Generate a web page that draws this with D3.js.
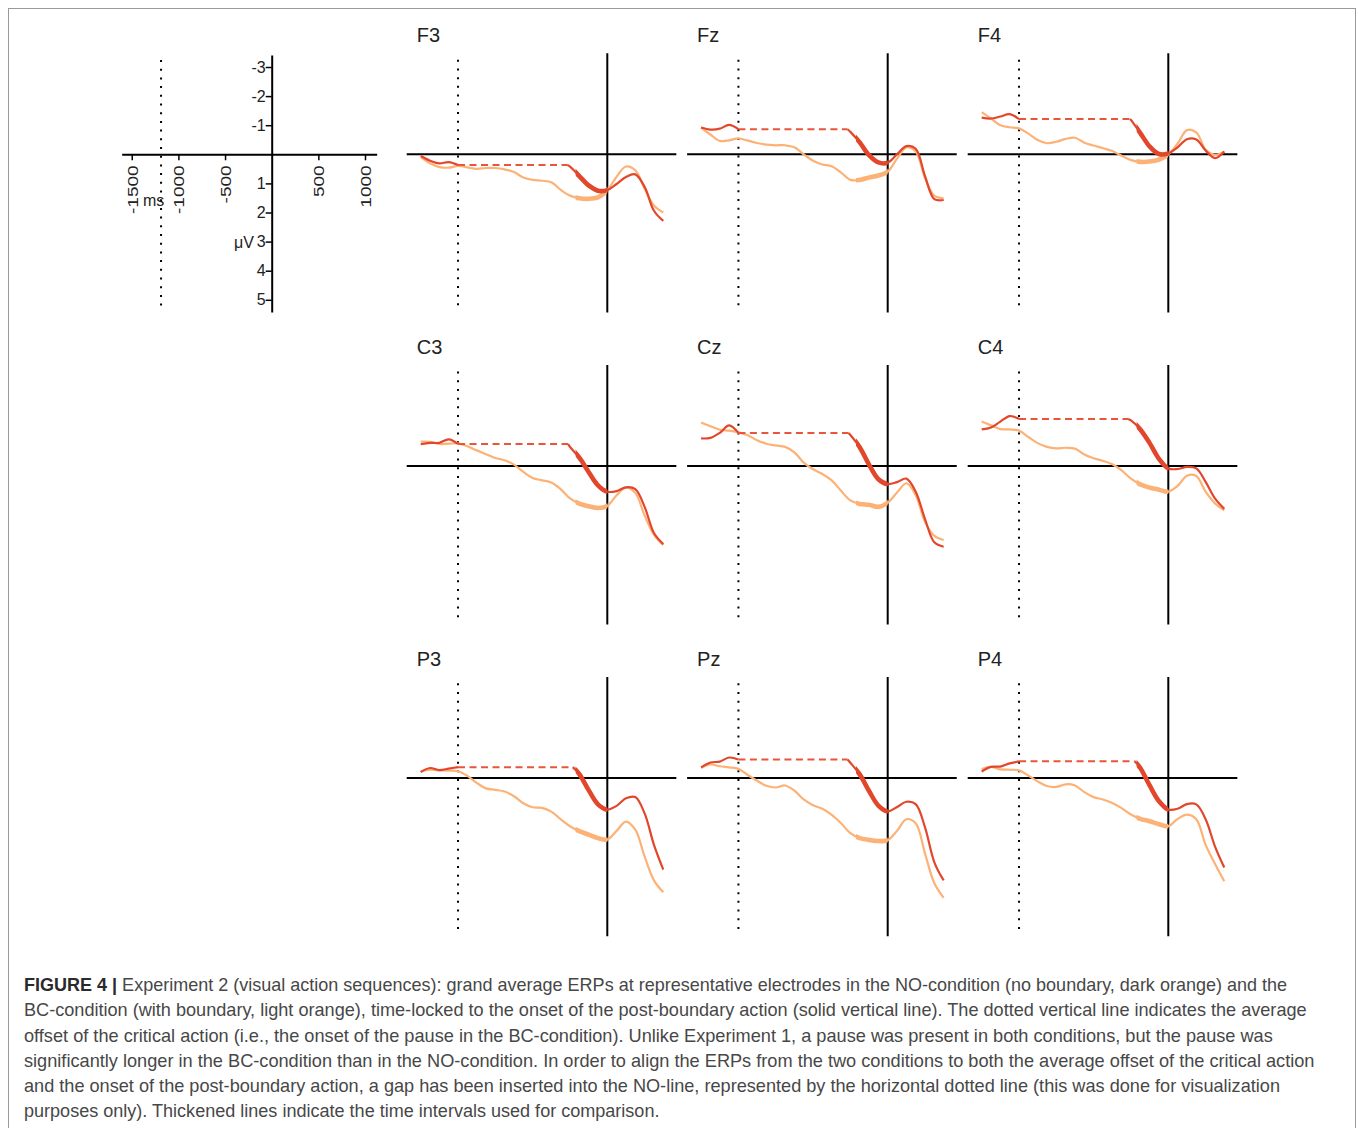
<!DOCTYPE html>
<html><head><meta charset="utf-8">
<script src="https://cdn.jsdelivr.net/npm/d3@7"></script>
<style>body{margin:0;background:#fff;} svg{display:block;}</style>
</head><body>
<svg id="chart" width="1358" height="1128"></svg>
<script>
// ---------- DATA ----------
const electrodes = ["F3", "Fz", "F4", "C3", "Cz", "C4", "P3", "Pz", "P4"];
const bcTimes = [-2000,-1900,-1800,-1700,-1600,-1500,-1400,-1300,-1200,-1100,-1000,-900,-800,-700,-600,-500,-400,-300,-200,-100,0,100,200,300,400,500,600];
const noPreTimes = [-2000,-1900,-1800,-1700,-1600];
const noPostTimes = [-400,-300,-200,-100,0,100,200,300,400,500,600];
const gapEnd = [-430, -430, -410, -420, -420, -430, -370, -430, -360];
const pauseOnset = -1600;         // dotted vertical line (ms)
const thickWindow = [-340, 0];    // thickened comparison interval (ms)

const noPreF3 = [0.06, 0.22, 0.31, 0.27, 0.37];
const noPostF3 = [0.42, 0.75, 1.07, 1.25, 1.23, 1.02, 0.78, 0.69, 1.12, 1.94, 2.29];
const bcF3 = [0.10,0.31,0.44,0.46,0.40,0.45,0.50,0.47,0.47,0.52,0.61,0.80,0.88,0.91,0.96,1.22,1.42,1.51,1.53,1.48,1.23,0.77,0.42,0.55,1.18,1.76,2.00];

const noPreFz = [-0.92, -0.85, -0.88, -1.01, -0.86];
const noPostFz = [-0.77, -0.41, 0.03, 0.28, 0.29, 0.00, -0.28, -0.19, 0.75, 1.54, 1.57];
const bcFz = [-0.92,-0.68,-0.46,-0.48,-0.55,-0.47,-0.39,-0.33,-0.31,-0.31,-0.24,0.00,0.22,0.35,0.41,0.63,0.88,0.88,0.80,0.73,0.60,0.15,-0.24,-0.10,0.82,1.42,1.51];

const noPreF4 = [-1.26, -1.23, -1.30, -1.38, -1.21];
const noPostF4 = [-1.18, -0.73, -0.27, -0.01, -0.03, -0.24, -0.52, -0.51, -0.13, 0.13, -0.10];
const bcF4 = [-1.45,-1.23,-1.00,-0.93,-0.89,-0.71,-0.49,-0.38,-0.43,-0.53,-0.57,-0.40,-0.30,-0.21,-0.11,0.05,0.20,0.26,0.25,0.18,0.00,-0.37,-0.83,-0.75,-0.16,0.02,-0.10];

const noPreC3 = [-0.75, -0.80, -0.80, -0.92, -0.76];
const noPostC3 = [-0.66, -0.29, 0.20, 0.66, 0.88, 0.86, 0.73, 0.79, 1.40, 2.30, 2.68];
const bcC3 = [-0.84,-0.83,-0.76,-0.77,-0.78,-0.68,-0.54,-0.41,-0.28,-0.20,-0.05,0.20,0.41,0.49,0.56,0.79,1.11,1.29,1.38,1.44,1.37,1.00,0.74,0.92,1.70,2.36,2.71];

const noPreCz = [-0.95, -0.97, -1.14, -1.40, -1.14];
const noPostCz = [-1.07, -0.65, -0.05, 0.45, 0.62, 0.55, 0.43, 0.88, 1.82, 2.62, 2.77];
const bcCz = [-1.50,-1.37,-1.25,-1.22,-1.16,-1.06,-0.89,-0.77,-0.71,-0.66,-0.47,-0.12,0.11,0.27,0.49,0.85,1.18,1.30,1.33,1.40,1.26,0.91,0.59,1.00,1.92,2.40,2.54];

const noPreC4 = [-1.26, -1.33, -1.53, -1.72, -1.62];
const noPostC4 = [-1.57, -1.26, -0.79, -0.25, 0.08, 0.10, 0.03, 0.08, 0.54, 1.11, 1.47];
const bcC4 = [-1.53,-1.40,-1.27,-1.26,-1.22,-1.00,-0.79,-0.66,-0.61,-0.63,-0.60,-0.40,-0.27,-0.18,-0.06,0.15,0.43,0.63,0.74,0.81,0.88,0.68,0.33,0.34,0.88,1.28,1.52];

const noPreP3 = [-0.20, -0.34, -0.27, -0.32, -0.37];
const noPostP3 = [null, -0.13, 0.42, 0.91, 1.09, 0.96, 0.70, 0.66, 1.22, 2.30, 3.15];
const bcP3 = [-0.23,-0.28,-0.26,-0.25,-0.23,-0.07,0.17,0.36,0.41,0.47,0.63,0.87,1.01,1.03,1.16,1.42,1.66,1.83,1.95,2.07,2.12,1.82,1.50,1.78,2.70,3.52,3.93];

const noPrePz = [-0.36, -0.53, -0.56, -0.70, -0.63];
const noPostPz = [-0.52, -0.12, 0.45, 0.95, 1.15, 1.00, 0.82, 0.90, 1.70, 2.90, 3.52];
const bcPz = [-0.34,-0.46,-0.40,-0.36,-0.31,-0.10,0.10,0.27,0.33,0.26,0.44,0.74,0.94,1.06,1.27,1.56,1.90,2.07,2.13,2.17,2.14,1.82,1.42,1.56,2.60,3.62,4.12];

const noPreP4 = [-0.22, -0.38, -0.39, -0.50, -0.57];
const noPostP4 = [null, -0.34, 0.26, 0.80, 1.09, 1.06, 0.90, 0.91, 1.42, 2.35, 3.08];
const bcP4 = [-0.30,-0.38,-0.29,-0.28,-0.26,-0.08,0.12,0.28,0.31,0.22,0.26,0.49,0.66,0.74,0.86,1.04,1.26,1.41,1.49,1.59,1.66,1.41,1.26,1.42,2.30,2.95,3.55];

const noPreAll = [noPreF3, noPreFz, noPreF4, noPreC3, noPreCz, noPreC4, noPreP3, noPrePz, noPreP4];
const noPostAll = [noPostF3, noPostFz, noPostF4, noPostC3, noPostCz, noPostC4, noPostP3, noPostPz, noPostP4];
const bcAll = [bcF3, bcFz, bcF4, bcC3, bcCz, bcC4, bcP3, bcPz, bcP4];

// legend axis
const legendXTicks = [-1500, -1000, -500, 500, 1000];
const legendYTicks = [-3, -2, -1, 1, 2, 3, 4, 5];
const legendDotted = -1186;

const captionLines = [
  [["FIGURE 4 | ", true], ["Experiment 2 (visual action sequences): grand average ERPs at representative electrodes in the NO-condition (no boundary, dark orange) and the", false]],
  [["BC-condition (with boundary, light orange), time-locked to the onset of the post-boundary action (solid vertical line). The dotted vertical line indicates the average", false]],
  [["offset of the critical action (i.e., the onset of the pause in the BC-condition). Unlike Experiment 1, a pause was present in both conditions, but the pause was", false]],
  [["significantly longer in the BC-condition than in the NO-condition. In order to align the ERPs from the two conditions to both the average offset of the critical action", false]],
  [["and the onset of the post-boundary action, a gap has been inserted into the NO-line, represented by the horizontal dotted line (this was done for visualization", false]],
  [["purposes only). Thickened lines indicate the time intervals used for comparison.", false]]
];
const captionRight = [1288, 1308, 1274, 1316, 1281, 660];

// ---------- LAYOUT ----------
const W = 1358, H = 1128;
const PX_MS = 0.0933, PX_UV = 29.1;
const colX = [607.3, 887.7, 1168.3];
const rowY = [154.3, 466.1, 777.9];
const NO_COLOR = "#e2472c", NO_DASH = "#e8553b", BC_COLOR = "#fcb276";
const FONT = "'Liberation Sans', Arial, Helvetica, sans-serif";

const svg = d3.select("#chart");
svg.append("rect").attr("x", 8.5).attr("y", 8.5).attr("width", 1347).attr("height", 1140)
  .attr("fill", "none").attr("stroke", "#9a9a9a").attr("stroke-width", 1);

const defs = svg.append("defs");

// ---------- PANELS ----------
electrodes.forEach((name, i) => {
  const c = i % 3, r = Math.floor(i / 3);
  const x = d3.scaleLinear().domain([-2150, 740]).range([colX[c] - 2150 * PX_MS, colX[c] + 740 * PX_MS]);
  const y = d3.scaleLinear().domain([-3.47, 5.44]).range([rowY[r] - 3.47 * PX_UV, rowY[r] + 5.44 * PX_UV]);
  const g = svg.append("g");
  const line = d3.line().x(d => x(d[0])).y(d => y(d[1])).curve(d3.curveCatmullRom.alpha(0.5));

  const clipId = "clip" + i;
  defs.append("clipPath").attr("id", clipId).append("rect")
    .attr("x", x(thickWindow[0])).attr("width", x(thickWindow[1]) - x(thickWindow[0]))
    .attr("y", y(-3.47)).attr("height", y(5.44) - y(-3.47));

  g.append("line").attr("x1", x(-2150)).attr("x2", x(740)).attr("y1", y(0)).attr("y2", y(0))
    .attr("stroke", "#000").attr("stroke-width", 2);
  g.append("line").attr("x1", x(0)).attr("x2", x(0)).attr("y1", y(-3.47)).attr("y2", y(5.44))
    .attr("stroke", "#000").attr("stroke-width", 2);
  g.append("line").attr("x1", x(pauseOnset)).attr("x2", x(pauseOnset)).attr("y1", y(-3.25)).attr("y2", y(5.42))
    .attr("stroke", "#000").attr("stroke-width", 2).attr("stroke-dasharray", "2,6.7");

  g.append("text").attr("x", x(-2150) + 10).attr("y", y(-3.47) - 11)
    .attr("font-family", FONT).attr("font-size", 20).attr("fill", "#222").text(name);

  const bcPts = bcTimes.map((t, k) => [t, bcAll[i][k]]);
  g.append("path").attr("d", line(bcPts)).attr("fill", "none").attr("stroke", BC_COLOR)
    .attr("stroke-width", 2.2).attr("stroke-linejoin", "round");
  g.append("path").attr("d", line(bcPts)).attr("fill", "none").attr("stroke", BC_COLOR)
    .attr("stroke-width", 4.6).attr("clip-path", `url(#${clipId})`);

  const pre = noPreTimes.map((t, k) => [t, noPreAll[i][k]]);
  const level = pre[pre.length - 1][1];
  const post = [[gapEnd[i], level]].concat(
    noPostTimes.map((t, k) => [t, noPostAll[i][k]]).filter(d => d[0] > gapEnd[i] && d[1] != null));
  g.append("path").attr("d", line(pre)).attr("fill", "none").attr("stroke", NO_COLOR)
    .attr("stroke-width", 2.2).attr("stroke-linejoin", "round");
  g.append("line").attr("x1", x(pauseOnset)).attr("x2", x(gapEnd[i])).attr("y1", y(level)).attr("y2", y(level))
    .attr("stroke", NO_DASH).attr("stroke-width", 2).attr("stroke-dasharray", "7,4.5");
  g.append("path").attr("d", line(post)).attr("fill", "none").attr("stroke", NO_COLOR)
    .attr("stroke-width", 2.2).attr("stroke-linejoin", "round");
  g.append("path").attr("d", line(post)).attr("fill", "none").attr("stroke", NO_COLOR)
    .attr("stroke-width", 4.6).attr("clip-path", `url(#${clipId})`);
});

// ---------- LEGEND AXES ----------
const y0L = 271.7;
const xL = d3.scaleLinear().domain([-1608, 1125]).range([y0L - 1608 * PX_MS, y0L + 1125 * PX_MS]);
const yL = d3.scaleLinear().domain([-3.41, 5.42]).range([rowY[0] - 3.41 * PX_UV, rowY[0] + 5.42 * PX_UV]);
const leg = svg.append("g");

leg.append("line").attr("x1", xL(legendDotted)).attr("x2", xL(legendDotted))
  .attr("y1", yL(-3.24)).attr("y2", yL(5.41))
  .attr("stroke", "#000").attr("stroke-width", 2).attr("stroke-dasharray", "2,6.7");

const gx = leg.append("g").attr("transform", `translate(0,${yL(0)})`)
  .call(d3.axisBottom(xL).tickValues(legendXTicks).tickSize(6).tickSizeOuter(0).tickFormat(d => String(d)));
gx.attr("font-family", FONT).attr("font-size", 15);
gx.select(".domain").attr("stroke-width", 2);
gx.selectAll(".tick line").attr("stroke-width", 1.5);
gx.selectAll(".tick text").attr("y", 0).attr("x", -11 / 1.27).attr("dy", "0.36em")
  .attr("transform", "rotate(-90) scale(1.27,1)").style("text-anchor", "end").attr("fill", "#222");

const gy = leg.append("g").attr("transform", `translate(${xL(0)},0)`)
  .call(d3.axisLeft(yL).tickValues(legendYTicks).tickSize(6).tickSizeOuter(0).tickPadding(0).tickFormat(d => String(d)));
gy.attr("font-family", FONT).attr("font-size", 16);
gy.select(".domain").attr("stroke-width", 2);
gy.selectAll(".tick line").attr("stroke-width", 1.5);
gy.selectAll(".tick text").attr("fill", "#222");

leg.append("text").attr("x", 143).attr("y", 206).attr("font-family", FONT).attr("font-size", 16)
  .attr("fill", "#222").text("ms");
leg.append("text").attr("x", 254).attr("y", yL(3) + 6).attr("text-anchor", "end").attr("font-family", FONT)
  .attr("font-size", 16).attr("fill", "#222").text("μV");

// ---------- CAPTION ----------
const capBase = [991, 1016, 1042, 1067, 1092, 1117];
captionLines.forEach((parts, k) => {
  const t = svg.append("text").attr("x", 0).attr("y", 0)
    .attr("font-family", FONT).attr("font-size", 17.5).attr("fill", "#474747");
  parts.forEach(p => {
    t.append("tspan").attr("font-weight", p[1] ? "bold" : "normal").attr("fill", p[1] ? "#2a2a2a" : "#474747").text(p[0]);
  });
  const w = t.node().getComputedTextLength();
  const sx = (captionRight[k] - 24) / w;
  t.attr("transform", `translate(24,${capBase[k]}) scale(${sx},1)`);
});
</script>
</body></html>
